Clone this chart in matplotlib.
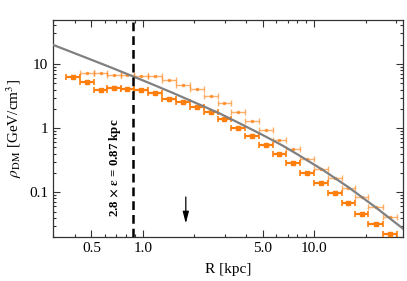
import numpy as np
import matplotlib
matplotlib.use("Agg")
import matplotlib.pyplot as plt
from matplotlib.ticker import FixedLocator, NullFormatter, FixedFormatter

# radial bin edges [kpc]
bin_edges = [0.353, 0.428, 0.519, 0.618, 0.741, 0.886, 1.07, 1.30, 1.56, 1.88,
             2.26, 2.73, 3.28, 3.95, 4.75, 5.73, 6.86, 8.28, 10.0, 12.1,
             14.5, 17.4, 20.8, 25.2, 30.5]

# dark (solid) series, one value per bin
rho_dark = [6.2, 5.18, 3.88, 4.26, 4.11, 3.97, 3.48, 2.81, 2.58, 2.15,
            1.76, 1.37, 1.01, 0.75, 0.542, 0.392, 0.281, 0.196, 0.138, 0.0975,
            0.0673, 0.0465, 0.0324, 0.0223]

# light (transparent) series, starting at bin 1
rho_light = [7.16, 7.31, 6.66, 6.66, 6.56, 6.56, 5.62, 4.75, 4.02, 3.20,
             2.49, 1.80, 1.30, 0.93, 0.649, 0.465, 0.324, 0.231, 0.166, 0.118,
             0.0844, 0.0598, 0.0417]

# gray model curve
curve_R = [0.3, 0.4, 0.5, 0.65, 0.87, 1.1, 1.5, 2.15, 2.8, 3.5, 5.0, 6.5, 8.0,
           11.3, 16.0, 23.0, 33.0]
curve_rho = [19.8, 14.7, 11.65, 8.85, 6.46, 5.0, 3.53, 2.32, 1.70, 1.267, 0.783,
             0.54, 0.390, 0.221, 0.118, 0.0576, 0.0272]

soft_R = 0.87
arrow_R = 1.78

plt.rcParams['font.family'] = ['Liberation Serif', 'DejaVu Serif']
plt.rcParams['mathtext.fontset'] = 'stix'

fig = plt.figure(figsize=(4.07, 2.81), dpi=100)
ax = fig.add_axes([53/407, 1-237/281, 350/407, 217/281])

edges = np.array(bin_edges)
centers = np.sqrt(edges[:-1] * edges[1:])
xlo = centers - edges[:-1]
xhi = edges[1:] - centers

orange = '#ff7f0e'
ax.errorbar(centers[1:], rho_light, xerr=[xlo[1:], xhi[1:]], fmt='s', ms=2,
            color=orange, alpha=0.6, elinewidth=1.0, capsize=2, capthick=1.0, zorder=2)
ax.errorbar(centers, rho_dark, xerr=[xlo, xhi], fmt='s', ms=2.5,
            color=orange, elinewidth=1.6, capsize=2, capthick=1.2, zorder=3)

ax.plot(curve_R, curve_rho, color='#808080', lw=1.6, zorder=4)

ax.axvline(soft_R, color='black', lw=1.8, ls=(0, (3.5, 2)), zorder=5)
ax.text(0.69, 0.237, r'2.8 $\mathbf{\times}$ $\mathbf{\epsilon}$ = 0.87 kpc', rotation=90,
        fontsize=9.3, fontweight='bold', ha='center', va='center', zorder=6)
ax.annotate('', xy=(arrow_R, 0.0294), xytext=(arrow_R, 0.093),
            arrowprops=dict(arrowstyle='-|>,head_width=0.18,head_length=0.7',
                            color='black', lw=0.9))

ax.set_xscale('log')
ax.set_yscale('log')
ax.set_xlim(0.298, 33.1)
ax.set_ylim(0.02, 48.7)

xmaj = [0.5, 1.0, 5.0, 10.0]
ax.xaxis.set_major_locator(FixedLocator(xmaj))
ax.xaxis.set_major_formatter(FixedFormatter(['0.5', '1.0', '5.0', '10.0']))
xmin = [0.3, 0.4, 0.6, 0.7, 0.8, 0.9, 2, 3, 4, 6, 7, 8, 9, 20, 30]
ax.xaxis.set_minor_locator(FixedLocator(xmin))
ax.xaxis.set_minor_formatter(NullFormatter())

ax.yaxis.set_major_locator(FixedLocator([0.1, 1, 10]))
ax.yaxis.set_major_formatter(FixedFormatter(['0.1', '1', '10']))
ymin = [m * d for d in [0.01, 0.1, 1, 10] for m in range(2, 10)]
ax.yaxis.set_minor_locator(FixedLocator(ymin))
ax.yaxis.set_minor_formatter(NullFormatter())

ax.tick_params(which='both', direction='in', top=True, right=True, labelsize=11,
               width=0.8, color='#333333')
ax.tick_params(which='major', length=5)
ax.tick_params(which='minor', length=2.5)
for s in ax.spines.values():
    s.set_linewidth(0.9)
    s.set_color('#333333')

ax.set_xlabel('R [kpc]', fontsize=11, labelpad=6)
ax.set_ylabel(r'$\rho_{\rm DM}$ [GeV/cm$^3$]', fontsize=11, labelpad=4)

fig.savefig('out.png', dpi=100)
